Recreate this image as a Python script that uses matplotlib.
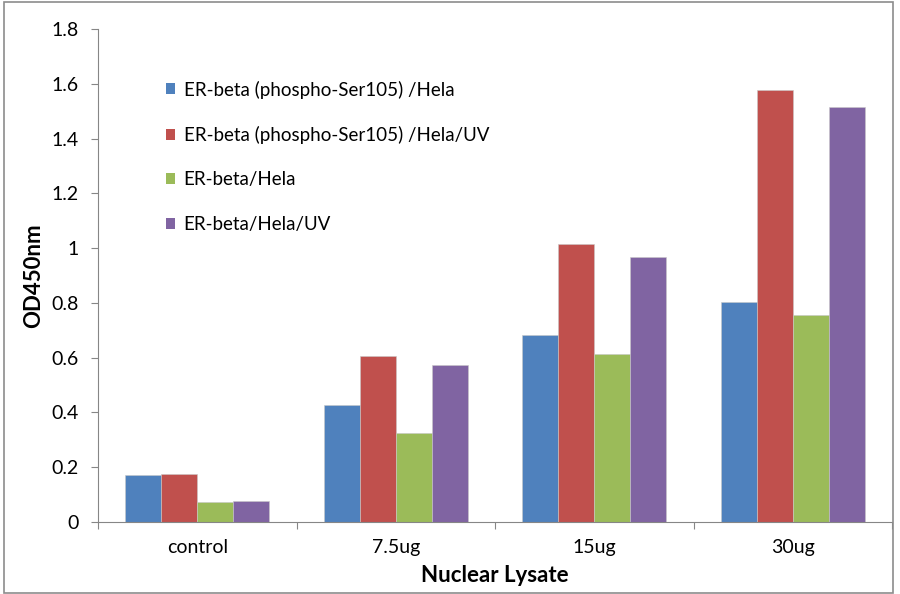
import matplotlib
matplotlib.use('Agg')
import matplotlib.pyplot as plt
import matplotlib.patches as mpatches
import numpy as np

plt.rcParams['font.family'] = ['Lato', 'DejaVu Sans']

# ---- data ----
categories = ['control', '7.5ug', '15ug', '30ug']
series_names = [
    'ER-beta (phospho-Ser105) /Hela',
    'ER-beta (phospho-Ser105) /Hela/UV',
    'ER-beta/Hela',
    'ER-beta/Hela/UV',
]
phospho_hela = [0.172, 0.427, 0.683, 0.804]
phospho_hela_uv = [0.175, 0.606, 1.015, 1.577]
erbeta_hela = [0.072, 0.325, 0.613, 0.757]
erbeta_hela_uv = [0.078, 0.573, 0.967, 1.516]
series_values = [phospho_hela, phospho_hela_uv, erbeta_hela, erbeta_hela_uv]
colors = ['#4F81BD', '#C0504D', '#9BBB59', '#8064A2']
y_ticks = [0, 0.2, 0.4, 0.6, 0.8, 1, 1.2, 1.4, 1.6, 1.8]
y_ticklabels = ['0', '0.2', '0.4', '0.6', '0.8', '1', '1.2', '1.4', '1.6', '1.8']

fig = plt.figure(figsize=(9.0, 5.94), dpi=100)
fig.patch.set_facecolor('white')
ax = fig.add_axes([98 / 900, 72 / 594, 794 / 900, 493 / 594])

# ---- bars ----
x = np.arange(len(categories))
bar_w = 0.181
n = len(series_values)
for i, (vals, col, name) in enumerate(zip(series_values, colors, series_names)):
    offs = (i - (n - 1) / 2) * bar_w
    ax.bar(x + offs, vals, width=bar_w, color=col, edgecolor='#c8c8c8',
           linewidth=0.4, label=name, zorder=2)

# ---- axes ----
ax.set_xlim(-0.5, len(categories) - 0.5)
ax.set_ylim(0, 1.8)
ax.set_yticks(y_ticks)
ax.set_yticklabels(y_ticklabels, fontsize=14)
ax.tick_params(axis='y', direction='out', length=5, width=0.8,
               color='#868686', pad=9)

# boundary ticks (major, no labels) and centred labels (minor, no ticks)
ax.set_xticks(np.arange(-0.5, len(categories) + 0.5, 1.0))
ax.set_xticklabels([])
ax.set_xticks(x, minor=True)
ax.set_xticklabels(categories, minor=True, fontsize=14)
ax.tick_params(axis='x', which='major', direction='out', length=5,
               width=0.8, color='#868686')
ax.tick_params(axis='x', which='minor', length=0, pad=12)

for side in ('top', 'right'):
    ax.spines[side].set_visible(False)
for side in ('left', 'bottom'):
    ax.spines[side].set_color('#868686')
    ax.spines[side].set_linewidth(0.8)

ax.set_xlabel('Nuclear Lysate', fontsize=16, fontweight='bold')
ax.set_ylabel('OD450nm', fontsize=16, fontweight='bold')
ax.xaxis.set_label_coords(0.5, -0.088)
ax.yaxis.set_label_coords(-0.068, 0.5)

# ---- legend ----
handles = [mpatches.Patch(facecolor=c, edgecolor='none') for c in colors]
ax.legend(handles, series_names, loc='upper left',
          bbox_to_anchor=(158 / 900, 1 - 73 / 594),
          bbox_transform=fig.transFigure, frameon=False, fontsize=13.5,
          handlelength=0.52, handleheight=0.52, handletextpad=0.45,
          labelspacing=1.46, borderaxespad=0)

# ---- outer frame ----
fig.patches.append(mpatches.Rectangle(
    (4 / 900, 1 / 594), 889 / 900, 591 / 594, transform=fig.transFigure,
    fill=False, edgecolor='#8c8c8c', linewidth=1.2))

fig.savefig('out.png', dpi=100, facecolor='white')
